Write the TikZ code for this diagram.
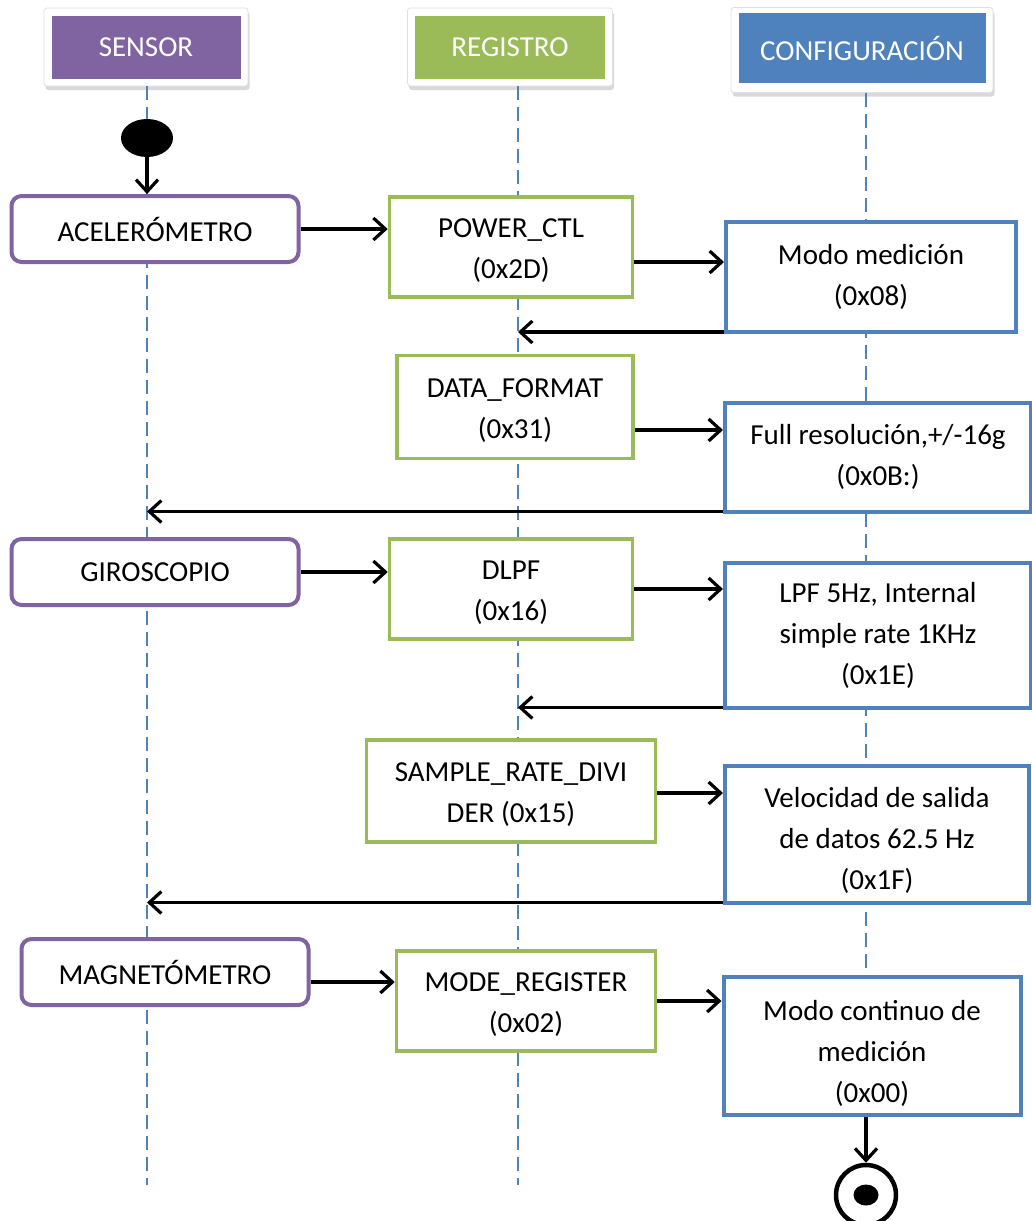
\documentclass[tikz,border=0pt]{standalone}
\usepackage{fontspec}
\setmainfont{Carlito}
\usetikzlibrary{arrows.meta,shadows,shapes.geometric}

\definecolor{lila}{HTML}{8064A2}
\definecolor{verde}{HTML}{9BBB59}
\definecolor{azul}{HTML}{4F81BD}

\begin{document}
\begin{tikzpicture}[x=1pt,y=-1pt,
    font=\fontsize{29}{41}\selectfont,
    marco/.style={draw=black!12,line width=0.8pt,fill=white,rounded corners=3pt,
        drop shadow={shadow xshift=1.5pt,shadow yshift=-4pt,opacity=0.3}},
    titulo/.style={inner sep=0pt,text=white},
    vida/.style={azul,line width=1.5pt,dash pattern=on 14pt off 7pt},
    sensor/.style={draw=lila,line width=4pt,fill=white,rounded corners=10pt,
        minimum width=287pt,minimum height=66pt,inner sep=0pt},
    registro/.style={draw=verde,line width=3.5pt,fill=white,align=center,
        minimum height=100pt,inner sep=0pt,text height=67pt},
    config/.style={draw=azul,line width=4pt,fill=white,align=center,inner sep=0pt},
    flecha/.style={line width=3.2pt,-{Straight Barb[length=12pt,width=22pt]}}]
    \useasboundingbox (0,0) rectangle (1032,1221);

    % cabeceras
    \node [marco,minimum width=204pt,minimum height=78pt] (sensorMarco) at (146,47) {};
    \node [titulo,fill=lila,minimum width=189pt,minimum height=63pt] (sensorTit) at (146,47) {SENSOR};
    \node [marco,minimum width=205pt,minimum height=78pt] (regMarco) at (510,47) {};
    \node [titulo,fill=verde,minimum width=190pt,minimum height=63pt] (regTit) at (510,47) {REGISTRO};
    \node [marco,minimum width=262pt,minimum height=85pt] (confMarco) at (862,50) {};
    \node [titulo,fill=azul,minimum width=247pt,minimum height=70pt] (confTit) at (862,48) {CONFIGURACIÓN};

    % lineas de vida
    \coordinate (vidaSensor) at (147,1185);
    \coordinate (vidaReg) at (518,1185);
    \coordinate (vidaConf) at (866,1160);
    \draw [vida] (sensorMarco.south -| vidaSensor) -- (vidaSensor);
    \draw [vida] (regMarco.south -| vidaReg) -- (vidaReg);
    \draw [vida] (confMarco.south -| vidaConf) -- (vidaConf);

    % inicio
    \node [ellipse,fill=black,minimum width=52pt,minimum height=38pt,inner sep=0pt] (inicio) at (147,138) {};

    % sensores
    \node [sensor] (acel) at (155,229) {ACELERÓMETRO};
    \node [sensor] (giro) at (155,572) {GIROSCOPIO};
    \node [sensor] (magn) at (165,972) {MAGNETÓMETRO};

    % registros
    \node [registro,minimum width=243pt] (power) at (511,247) {POWER\_CTL\\(0x2D)};
    \node [registro,minimum width=236pt,minimum height=103pt] (formato) at (515,407) {DATA\_FORMAT\\(0x31)};
    \node [registro,minimum width=243pt] (dlpf) at (511,589) {DLPF\\(0x16)};
    \node [registro,minimum width=289pt,minimum height=102pt] (divisor) at (511,791) {SAMPLE\_RATE\_DIVI\\DER (0x15)};
    \node [registro,minimum width=259pt] (modo) at (526,1001) {MODE\_REGISTER\\(0x02)};

    % configuraciones
    \node [config,minimum width=290pt,minimum height=110pt] (medicion) at (871,277) {Modo medición\\(0x08)};
    \node [config,minimum width=306pt,minimum height=109pt] (resol) at (878,457) {Full resolución,+/-16g\\(0x0B:)};
    \node [config,minimum width=306pt,minimum height=145pt] (filtro) at (878,635) {LPF 5Hz, Internal\\simple rate 1KHz\\(0x1E)};
    \node [config,minimum width=304pt,minimum height=137pt,text height=114pt] (salida) at (877,834) {Velocidad de salida\\de datos 62.5 Hz\\(0x1F)};
    \node [config,minimum width=297pt,minimum height=138pt,text height=116pt] (continuo) at (872,1046) {Modo continuo de\\medición\\(0x00)};

    % fin
    \node [circle,draw,line width=4.5pt,fill=white,minimum size=60pt,inner sep=0pt] (fin) at (866,1195) {};
    \node [ellipse,fill=black,minimum width=25pt,minimum height=21pt,inner sep=0pt] (finPunto) at (fin) {};

    % mensajes
    \draw [flecha] (inicio.south) -- (inicio.south |- acel.north);
    \draw [flecha] (acel.east) -- (acel.east -| power.west);
    \draw [flecha] ([yshift=-15pt]power.east) -- ([yshift=-15pt]power.east -| medicion.west);
    \draw [flecha] ([yshift=2pt]medicion.south west) -- ([yshift=2pt]medicion.south west -| vidaReg);
    \draw [flecha] ([yshift=-23pt]formato.east) -- ([yshift=-23pt]formato.east -| resol.west);
    \draw [flecha] ([yshift=2pt]resol.south west) -- ([yshift=2pt]resol.south west -| vidaSensor);
    \draw [flecha] (giro.east) -- (giro.east -| dlpf.west);
    \draw [flecha] (dlpf.east) -- (dlpf.east -| filtro.west);
    \draw [flecha] ([yshift=2pt]filtro.south west) -- ([yshift=2pt]filtro.south west -| vidaReg);
    \draw [flecha] ([yshift=-2pt]divisor.east) -- ([yshift=-2pt]divisor.east -| salida.west);
    \draw [flecha] ([yshift=2pt]salida.south west) -- ([yshift=2pt]salida.south west -| vidaSensor);
    \draw [flecha] ([yshift=-10pt]magn.east) -- ([yshift=-10pt]magn.east -| modo.west);
    \draw [flecha] (modo.east) -- (modo.east -| continuo.west);
    \draw [flecha] (continuo.south -| fin.north) -- (fin.north);
\end{tikzpicture}
\end{document}
